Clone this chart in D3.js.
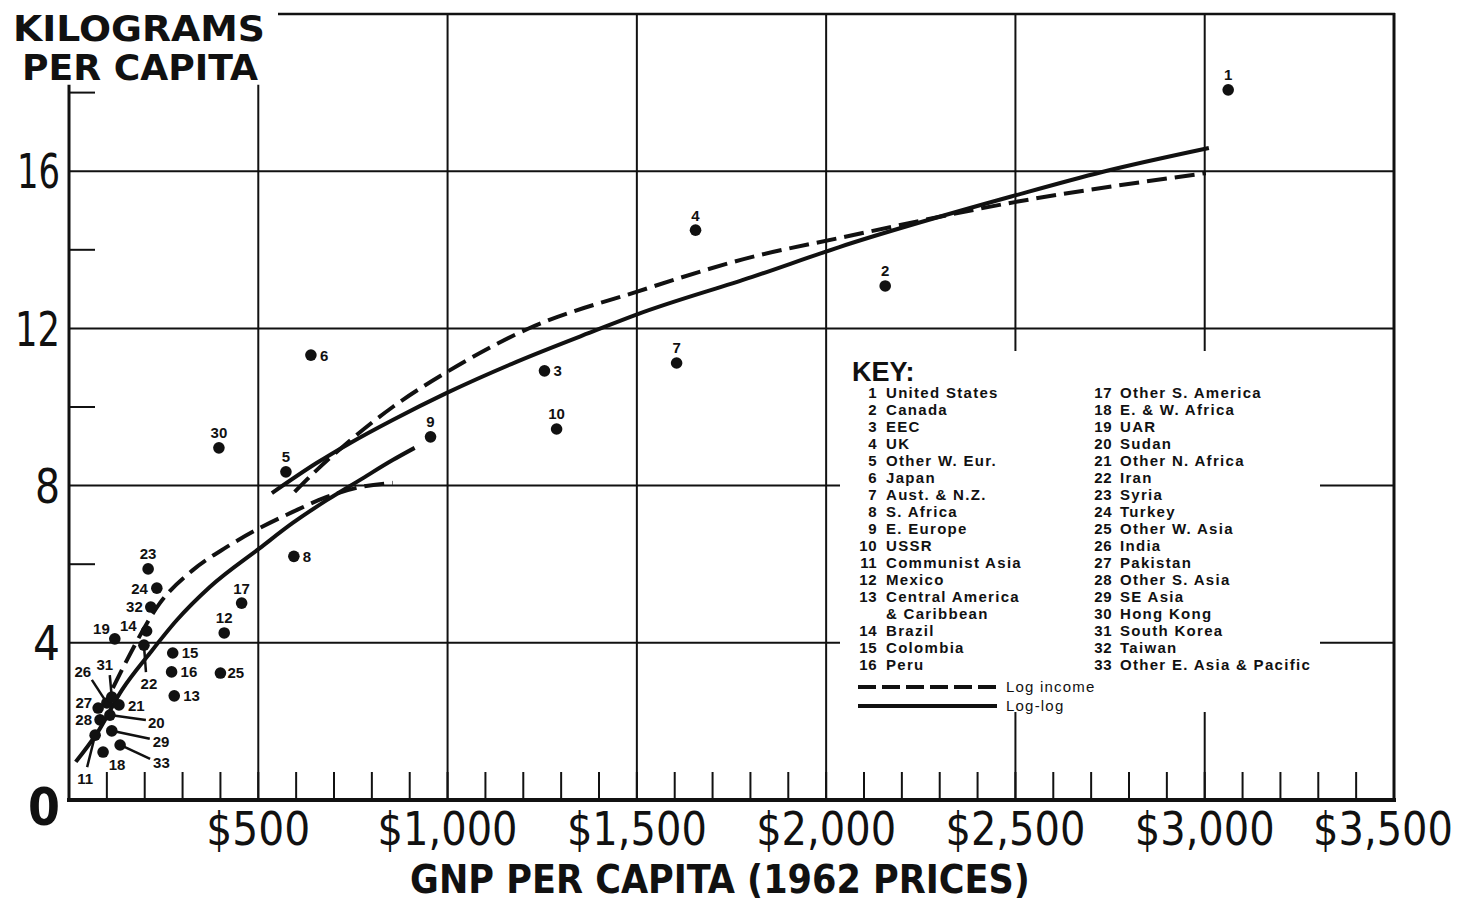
<!DOCTYPE html>
<html>
<head>
<meta charset="utf-8">
<script src="https://cdn.jsdelivr.net/npm/d3@7"></script>
<style>
  html, body { margin: 0; padding: 0; background: #fff; }
  svg { display: block; }
</style>
</head>
<body>
<svg id="chart" width="1468" height="902"></svg>
<script>
// ---- Regions (numbered as in the key) ----
const regionNames = [
  "United States", "Canada", "EEC", "UK", "Other W. Eur.", "Japan",
  "Aust. & N.Z.", "S. Africa", "E. Europe", "USSR", "Communist Asia",
  "Mexico", "Central America", "Brazil", "Colombia", "Peru",
  "Other S. America", "E. & W. Africa", "UAR", "Sudan", "Other N. Africa",
  "Iran", "Syria", "Turkey", "Other W. Asia", "India", "Pakistan",
  "Other S. Asia", "SE Asia", "Hong Kong", "South Korea", "Taiwan",
  "Other E. Asia & Pacific"
];
// GNP per capita, dollars (1962 prices)
const gnpPerCapita = [
  3062, 2156, 1256, 1655, 573, 639, 1605, 594, 955, 1288, 69,
  410, 278, 205, 274, 271, 456, 90, 121, 108, 132,
  198, 209, 232, 400, 100, 77, 82, 113, 396, 113, 216, 135
];
// Kilograms per capita
const kgPerCapita = [
  18.07, 13.08, 10.92, 14.50, 8.35, 11.32, 11.12, 6.20, 9.24, 9.44, 1.65,
  4.25, 2.65, 4.30, 3.74, 3.26, 5.01, 1.22, 4.10, 2.16, 2.42,
  3.94, 5.88, 5.39, 3.23, 2.47, 2.34, 2.04, 1.76, 8.96, 2.62, 4.91, 1.40
];

// ---- Fitted curves ----
const logIncomeHighGnp = [596, 655, 734, 855, 998, 1217, 1499, 1805, 2035, 2502, 3003];
const logIncomeHighKg  = [7.84, 8.40, 9.08, 10.0, 10.89, 12.01, 12.93, 13.82, 14.30, 15.22, 15.95];
const logLogHighGnp    = [536, 655, 742, 855, 998, 1182, 1394, 1499, 1805, 2035, 2502, 2729, 3011];
const logLogHighKg     = [7.81, 8.58, 9.08, 9.67, 10.36, 11.15, 11.96, 12.35, 13.31, 14.07, 15.39, 15.98, 16.59];
const logIncomeLowGnp  = [116, 153, 240, 327, 417, 494, 591, 681, 768, 855];
const logIncomeLowKg   = [2.85, 3.56, 5.01, 5.85, 6.44, 6.87, 7.33, 7.71, 7.96, 8.07];
const logLogLowGnp     = [18, 74, 140, 214, 285, 372, 504, 591, 681, 768, 855, 913];
const logLogLowKg      = [0.97, 1.70, 2.80, 3.74, 4.58, 5.42, 6.41, 7.05, 7.63, 8.14, 8.65, 8.96];

// ---- Axis ticks ----
const xTickValues = [500, 1000, 1500, 2000, 2500, 3000, 3500];
const xTickLabels = ["$500", "$1,000", "$1,500", "$2,000", "$2,500", "$3,000", "$3,500"];
const yTickValues = [0, 4, 8, 12, 16];
const yTickLabels = ["0", "4", "8", "12", "16"];
const yMinorTicks = [6, 10, 14, 18];
const xMinorTicks = d3.range(100, 3500, 100);

// ---- Label placement (pixel offsets from each dot; leader = start of pointer line) ----
const labelPlacement = {
  1: { dx: 0, dy: -15, anchor: "middle" },
  2: { dx: 0, dy: -15, anchor: "middle" },
  3: { dx: 9, dy: 0, anchor: "start" },
  4: { dx: 0, dy: -15, anchor: "middle" },
  5: { dx: 0, dy: -15, anchor: "middle" },
  6: { dx: 9, dy: 0, anchor: "start" },
  7: { dx: 0, dy: -15, anchor: "middle" },
  8: { dx: 9, dy: 0, anchor: "start" },
  9: { dx: 0, dy: -15, anchor: "middle" },
  10: { dx: 0, dy: -15, anchor: "middle" },
  11: { dx: -10, dy: 43, anchor: "middle", leader: [-8, 32] },
  12: { dx: 0, dy: -15, anchor: "middle" },
  13: { dx: 9, dy: 0, anchor: "start" },
  14: { dx: -10, dy: -5, anchor: "end" },
  15: { dx: 9, dy: 0, anchor: "start" },
  16: { dx: 9, dy: 0, anchor: "start" },
  17: { dx: 0, dy: -15, anchor: "middle" },
  18: { dx: 14, dy: 13, anchor: "middle" },
  19: { dx: -5, dy: -10, anchor: "end" },
  20: { dx: 38, dy: 7, anchor: "start", leader: [36, 5] },
  21: { dx: 9, dy: 1, anchor: "start" },
  22: { dx: 5, dy: 38, anchor: "middle", leader: [2, 27] },
  23: { dx: 0, dy: -15, anchor: "middle" },
  24: { dx: -9, dy: 0, anchor: "end" },
  25: { dx: 7, dy: 0, anchor: "start" },
  26: { dx: -24, dy: -31, anchor: "middle", leader: [-15, -23] },
  27: { dx: -6, dy: -5, anchor: "end" },
  28: { dx: -8, dy: 0, anchor: "end" },
  29: { dx: 41, dy: 11, anchor: "start", leader: [38, 8] },
  30: { dx: 0, dy: -15, anchor: "middle" },
  31: { dx: -7, dy: -32, anchor: "middle", leader: [-2, -22] },
  32: { dx: -8, dy: 0, anchor: "end" },
  33: { dx: 33, dy: 18, anchor: "start", leader: [30, 14] }
};

// ---- Setup ----
const svg = d3.select("#chart");
const x = d3.scaleLinear().domain([0, 3500]).range([69, 1394]);
const y = d3.scaleLinear().domain([0, 20]).range([800, 14]);
const ink = "#111";
const narrow = "'Liberation Sans Narrow', 'DejaVu Sans Condensed', 'Liberation Sans', sans-serif";
const sans = "'Liberation Sans', Arial, sans-serif";

// squeeze a centred text horizontally so that it spans the given width
function fitCentered(sel, cx, cy, width) {
  sel.attr("x", 0).attr("y", 0).attr("text-anchor", "middle");
  const natural = sel.node().getComputedTextLength();
  const s = natural > 0 ? width / natural : 1;
  sel.attr("transform", `translate(${cx},${cy}) scale(${s},1)`);
}

const frame = svg.append("g").attr("stroke", ink).attr("fill", "none");

// horizontal grid
frame.selectAll("line.hgrid").data(yTickValues.filter(v => v > 0)).join("line")
  .attr("class", "hgrid")
  .attr("x1", x(0)).attr("x2", x(3500))
  .attr("y1", d => y(d)).attr("y2", d => y(d))
  .attr("stroke-width", 2);

// vertical grid
frame.selectAll("line.vgrid").data([500, 1000, 1500, 2000, 2500, 3000]).join("line")
  .attr("class", "vgrid")
  .attr("x1", d => x(d)).attr("x2", d => x(d))
  .attr("y1", d => d === 500 ? y(18.2) : y(20)).attr("y2", y(0))
  .attr("stroke-width", 2);

// left axis, right border, top border, baseline
frame.append("line").attr("x1", x(0)).attr("x2", x(0)).attr("y1", y(18.2)).attr("y2", y(0) + 2).attr("stroke-width", 3);
frame.append("line").attr("x1", x(3500)).attr("x2", x(3500)).attr("y1", y(20) - 1).attr("y2", y(0) + 2).attr("stroke-width", 3);
frame.append("line").attr("x1", 278).attr("x2", x(3500) + 1).attr("y1", y(20)).attr("y2", y(20)).attr("stroke-width", 2.5);
frame.append("line").attr("x1", x(0) - 2).attr("x2", x(3500) + 2).attr("y1", y(0)).attr("y2", y(0)).attr("stroke-width", 4);

// minor ticks
frame.selectAll("line.ytick").data(yMinorTicks).join("line")
  .attr("x1", x(0)).attr("x2", x(0) + 26)
  .attr("y1", d => y(d)).attr("y2", d => y(d))
  .attr("stroke-width", 2);
frame.selectAll("line.xtick").data(xMinorTicks).join("line")
  .attr("x1", d => x(d)).attr("x2", d => x(d))
  .attr("y1", y(0)).attr("y2", y(0) - 28)
  .attr("stroke-width", 2);

// white panel behind the key
svg.append("rect").attr("x", 840).attr("y", 351).attr("width", 480).attr("height", 361).attr("fill", "#fff");

// ---- Axis labels ----
const yLabelWidth = { "0": 32, "4": 27, "8": 25, "12": 45, "16": 43 };
svg.append("g").selectAll("text").data(yTickValues).join("text")
  .attr("x", 60)
  .attr("y", d => d === 0 ? y(d) + 6 : y(d))
  .attr("dy", "0.36em")
  .attr("text-anchor", "end")
  .attr("font-family", narrow)
  .attr("font-size", d => d === 0 ? 52 : 48)
  .attr("font-weight", d => d === 0 ? 700 : 400)
  .attr("textLength", (d, i) => yLabelWidth[yTickLabels[i]])
  .attr("lengthAdjust", "spacingAndGlyphs")
  .attr("fill", ink)
  .text((d, i) => yTickLabels[i]);

// x tick labels; the last one sits just inside the right border
svg.append("g").selectAll("text").data(xTickValues).join("text")
  .attr("font-family", narrow)
  .attr("font-size", 47)
  .attr("fill", ink)
  .text((d, i) => xTickLabels[i])
  .each(function (d, i) {
    fitCentered(d3.select(this), x(d) - (d === 3500 ? 11 : 0), 845,
      xTickLabels[i].length > 4 ? 140 : 104);
  });

const xTitle = svg.append("text")
  .attr("font-family", narrow).attr("font-weight", 700).attr("font-size", 39)
  .attr("fill", ink)
  .text("GNP PER CAPITA (1962 PRICES)");
fitCentered(xTitle, 720, 893, 620);

const titleFont = "'DejaVu Sans', 'Liberation Sans', sans-serif";
svg.append("text").attr("x", 13).attr("y", 41)
  .attr("font-family", titleFont).attr("font-weight", 700).attr("font-size", 36)
  .attr("textLength", 252).attr("lengthAdjust", "spacingAndGlyphs").attr("fill", ink)
  .text("KILOGRAMS");
svg.append("text").attr("x", 22).attr("y", 80)
  .attr("font-family", titleFont).attr("font-weight", 700).attr("font-size", 36)
  .attr("textLength", 236).attr("lengthAdjust", "spacingAndGlyphs").attr("fill", ink)
  .text("PER CAPITA");

// ---- Curves ----
const line = d3.line().x(d => x(d[0])).y(d => y(d[1])).curve(d3.curveMonotoneX);
const curves = [
  { gx: logIncomeHighGnp, ky: logIncomeHighKg, dashed: true },
  { gx: logLogHighGnp, ky: logLogHighKg, dashed: false },
  { gx: logIncomeLowGnp, ky: logIncomeLowKg, dashed: true },
  { gx: logLogLowGnp, ky: logLogLowKg, dashed: false }
];
svg.append("g").selectAll("path").data(curves).join("path")
  .attr("d", c => line(c.gx.map((g, i) => [g, c.ky[i]])))
  .attr("fill", "none")
  .attr("stroke", ink)
  .attr("stroke-width", 4)
  .attr("stroke-dasharray", c => c.dashed ? "20,8" : null);

// ---- Points ----
const points = regionNames.map((name, i) => ({
  id: i + 1, name, gnp: gnpPerCapita[i], kg: kgPerCapita[i]
}));

const leaders = points.filter(p => labelPlacement[p.id].leader);
svg.append("g").selectAll("line").data(leaders).join("line")
  .attr("x1", p => x(p.gnp) + labelPlacement[p.id].leader[0])
  .attr("y1", p => y(p.kg) + labelPlacement[p.id].leader[1])
  .attr("x2", p => x(p.gnp)).attr("y2", p => y(p.kg))
  .attr("stroke", ink).attr("stroke-width", 2.5);

svg.append("g").selectAll("circle").data(points).join("circle")
  .attr("cx", p => x(p.gnp)).attr("cy", p => y(p.kg))
  .attr("r", 5.8).attr("fill", ink);

svg.append("g").selectAll("text").data(points).join("text")
  .attr("x", p => x(p.gnp) + labelPlacement[p.id].dx)
  .attr("y", p => y(p.kg) + labelPlacement[p.id].dy)
  .attr("dy", "0.36em")
  .attr("text-anchor", p => labelPlacement[p.id].anchor)
  .attr("font-family", sans).attr("font-weight", 700).attr("font-size", 15)
  .attr("fill", ink)
  .text(p => p.id);

// ---- Key ----
const key = svg.append("g").attr("font-family", sans).attr("fill", ink);
key.append("text").attr("x", 852).attr("y", 381)
  .attr("font-size", 27).attr("font-weight", 700).text("KEY:");

// column rows: region 13 takes two lines
const rowH = 17, row0 = 393;
const keyRows = [];
points.forEach(p => {
  const col = p.id <= 16 ? 0 : 1;
  let row;
  if (col === 0) row = p.id <= 13 ? p.id - 1 : p.id;
  else row = p.id - 17;
  keyRows.push({ p, col, row });
});
const colNumX = [877, 1112], colTextX = [886, 1120];
const keyText = key.append("g").attr("font-size", 15).attr("font-weight", 700).attr("letter-spacing", 1.3);
keyText.selectAll("text.num").data(keyRows).join("text")
  .attr("x", d => colNumX[d.col]).attr("y", d => row0 + d.row * rowH).attr("dy", "0.36em")
  .attr("text-anchor", "end").attr("letter-spacing", 0.5).text(d => d.p.id);
keyText.selectAll("text.name").data(keyRows).join("text")
  .attr("x", d => colTextX[d.col]).attr("y", d => row0 + d.row * rowH).attr("dy", "0.36em")
  .text(d => d.p.name);
keyText.append("text").attr("x", colTextX[0]).attr("y", row0 + 13 * rowH).attr("dy", "0.36em")
  .text("& Caribbean");

key.append("line").attr("x1", 858).attr("x2", 1000).attr("y1", 687).attr("y2", 687)
  .attr("stroke", ink).attr("stroke-width", 4).attr("stroke-dasharray", "18,6");
key.append("line").attr("x1", 858).attr("x2", 997).attr("y1", 706).attr("y2", 706)
  .attr("stroke", ink).attr("stroke-width", 4);
key.append("text").attr("x", 1006).attr("y", 687).attr("dy", "0.36em")
  .attr("font-size", 15).attr("letter-spacing", 1.2).text("Log income");
key.append("text").attr("x", 1006).attr("y", 706).attr("dy", "0.36em")
  .attr("font-size", 15).attr("letter-spacing", 1.2).text("Log-log");
</script>
</body>
</html>
